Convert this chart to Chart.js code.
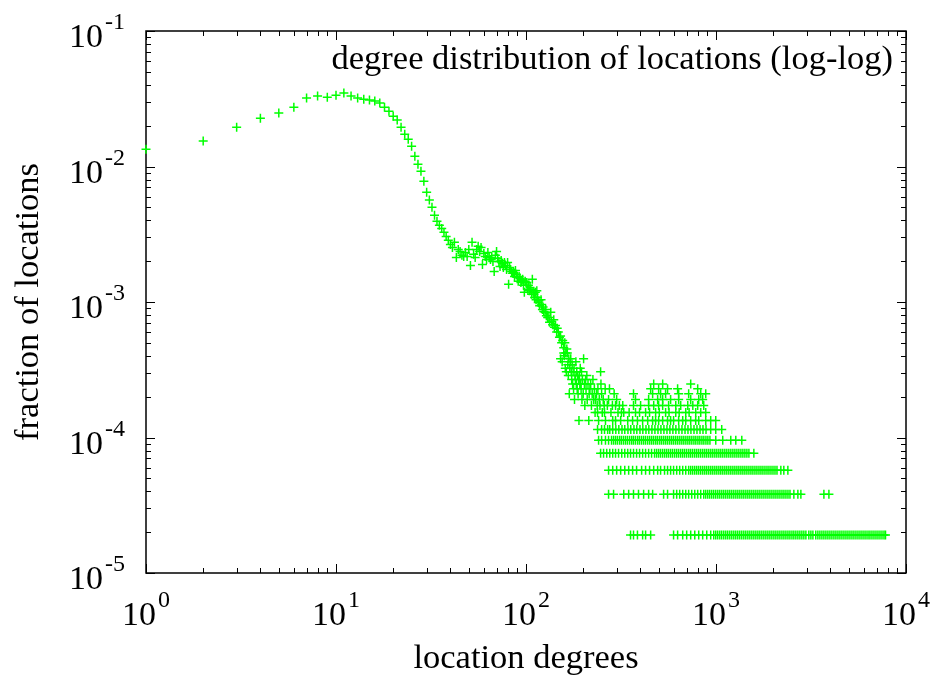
<!DOCTYPE html>
<html>
<head>
<meta charset="utf-8">
<script src="https://cdn.jsdelivr.net/npm/chart.js"></script>
<style>
  body { margin: 0; background: #fff; }
  canvas { display: block; }
</style>
</head>
<body>
<canvas id="degreeChart" width="932" height="684"></canvas>
<script>
// degree k -> fraction of locations (the smooth part, k = 1..164)
const curveDegrees = [1,2,3,4,5,6,7,8,9,10,11,12,13,14,15,16,17,18,19,20,21,22,23,24,25,26,27,28,29,30,
  31,32,33,34,35,36,37,38,39,40,41,42,43,44,45,46,47,48,49,50,51,52,53,54,55,56,57,58,59,60,
  61,62,63,64,65,66,67,68,69,70,71,72,73,74,75,76,77,78,79,80,81,82,83,84,85,86,87,88,89,90,
  91,92,93,94,95,96,97,98,99,100,101,102,103,104,105,106,107,108,109,110,111,112,113,114,115,116,117,118,
  120,121,122,123,124,126,127,128,130,132,133,135,136,138,140,141,143,145,146,148,150,152,154,156,158,160,162,164];
const curveFractions = [0.0134,0.0154,0.0195,0.0227,0.0248,0.0274,0.0320,0.0331,0.0325,0.0336,
  0.0348,0.0331,0.0320,0.0314,0.0309,0.0304,0.0294,0.0274,0.0256,0.0235,
  0.0220,0.0195,0.0173,0.0159,0.0141,0.0119,0.0104,0.00922,0.00778,0.00645,
  0.00565,0.00500,0.00436,0.00394,0.00368,0.00349,0.00327,0.00305,0.00285,0.00266,
  0.00252,0.00276,0.00213,0.00244,0.00236,0.00221,0.00217,0.00232,0.00217,0.00244,
  0.00186,0.00276,0.00225,0.00213,0.00244,0.00258,0.00236,0.00253,0.00189,0.00228,
  0.00217,0.00206,0.00232,0.00213,0.00206,0.00213,0.00199,0.00168,0.00221,0.00236,
  0.00210,0.00199,0.00183,0.00202,0.00193,0.00180,0.00196,0.00186,0.00174,0.00196,
  0.00135,0.00180,0.00174,0.00168,0.00163,0.00165,0.00154,0.00171,0.00160,0.00152,
  0.00142,0.00154,0.00149,0.00139,0.00144,0.00147,0.00133,0.00118,0.00142,0.00139,
  0.00139,0.00124,0.00133,0.00121,0.00128,0.00124,0.00114,0.00147,0.00118,0.00114,
  0.00108,0.00118,0.00104,0.00121,0.00108,0.00099,0.00102,0.00094,
  0.00104,0.00096,0.00088,0.00092,0.00085,0.00084,0.00088,0.00079,0.00077,0.00077,
  0.00071,0.00084,0.00072,0.00068,0.00074,0.00065,0.00067,0.00060,0.00064,0.00060,
  0.00055,0.00056,0.00050,0.00052,0.00046,0.00050,0.00042,0.00045];

// the tail is quantised: 1, 2, 3 ... locations out of ~52000
const levelFractions = [1.91e-5,3.82e-5,5.73e-5,7.64e-5,9.55e-5,1.146e-4,1.337e-4,1.528e-4,1.719e-4,1.91e-4,
  2.101e-4,2.292e-4,2.483e-4,2.674e-4,2.865e-4,3.056e-4,3.247e-4,3.438e-4,3.629e-4,3.82e-4,4.011e-4,4.202e-4];
const levelDegrees = [
  [355,368,386,411,426,453,598,628,668,701,736,773,811,851,894,938,973,997,1021,1047,1072,1099,1126,1153,1182,1211,
   1241,1271,1302,1334,1367,1401,1435,1471,1507,1544,1582,1621,1661,1701,1743,1786,1830,1875,1921,1968,2017,2066,
   2117,2169,2223,2277,2333,2391,2449,2510,2569,2632,2697,2763,2831,2900,2972,3080,3158,3236,3350,3437,3522,3609,3697,3788,
   3881,3977,4074,4175,4277,4383,4490,4600,4714,4830,4948,5070,5194,5320,5452,5587,5724,5864,6009,6156,6310,6461,6620,6783,
   6950,7120,7295,7474,7658,7800],
  [272,289,327,347,368,391,416,442,464,530,556,598,621,644,668,693,718,745,773,801,831,862,883,905,927,950,973,997,
   1022,1047,1073,1099,1126,1154,1182,1211,1241,1272,1303,1335,1368,1401,1436,1471,1507,1544,1582,1621,1661,1702,
   1744,1787,1831,1876,1922,1969,2018,2067,2118,2170,2224,2278,2334,2392,2451,2569,2697,2797,3697,3929],
  [272,286,300,315,331,347,364,382,406,426,447,470,493,511,536,556,577,598,621,644,668,693,718,736,754,773,792,811,
   831,852,873,894,916,939,962,986,1010,1035,1060,1086,1113,1140,1168,1197,1227,1257,1288,1319,1352,1385,1419,1454,
   1490,1527,1564,1603,1642,1683,1724,1766,1810,1855,1900,1947,1995,2044,2094,2194,2275,2389],
  [247,256,266,276,286,296,307,319,331,343,355,368,382,396,411,426,442,458,475,487,499,511,524,537,550,563,577,591,
   606,621,636,652,668,684,701,719,736,754,773,792,811,831,852,873,894,916,939,962,986,1010,1035,1060,1086,1113,
   1140,1168,1197,1227,1257,1288,1319,1352,1385,1419,1454,1490,1582],
  [241,250,262,272,282,289,296,303,311,318,326,334,342,351,360,368,377,387,396,406,416,426,437,448,459,470,482,493,
   506,518,531,544,557,571,585,599,614,629,645,661,677,694,711,728,746,765,783,803,822,843,863,885,906,929,997,1085,
   1196,1271,1367],
  [238,250,259,269,276,286,297,308,320,331,344,356,370,383,398,412,428,443,460,477,495,513,532,552,572,593,615,638,
   662,687,712,738,766,794,824,854,886,938,997,1072],
  [190,214,241,262,286,296,315,343,364,386,411,437,464,481,499,524,556,577,598,636,668,693,736,782,811,883,938,997],
  [231,238,252,259,280,305,318,327,349,377,396,426,447,481,503,543,566,614,640,693,722,782,831,883],
  [204,221,237,245,258,268,285,296,310,323,368,401,442,470,499,524,563,614,652,710,755,801,862],
  [180,197,210,227,232,243,255,272,300,377,442,493,524,577,636,736,811,851],
  [169,188,200,215,223,235,250,291,368,464,511,543,636,718,831,883],
  [178,186,195,207,217,229,239,261,275,453,499,556,628,801],
  [176,184,192,194,203,212,219,248,470,524,736],
  [174,182,189,198,206,225],
  [167,181,187,191,209],
  [163,173,177,185,196,247],
  [161,170,179,193],
  [166,175],
  [155,171,183],
  [152,168,172,201],
  [159],
  [158,165]
];

const xTickExponents = [0, 1, 2, 3, 4];
const yTickExponents = [-5, -4, -3, -2, -1];
const minorSteps = [2, 3, 4, 5, 6, 7, 8, 9];

const titleText = 'degree distribution of locations (log-log)';
const xTitle = 'location degrees';
const yTitle = 'fraction of locations';

const GREEN = '#00ff00';
const SERIF = '"Liberation Serif", "Times New Roman", serif';

// gnuplot-like frame: box, inward ticks on all sides, 10^n labels, texts
const gnuFrame = {
  id: 'gnuFrame',
  beforeDatasetsDraw(chart) {
    const { ctx, chartArea: a, scales: { x, y } } = chart;
    ctx.save();
    ctx.strokeStyle = '#000';
    ctx.lineWidth = 1;
    ctx.beginPath();
    const tick = (px, len, horiz) => {
      const p = Math.round(px) + 0.5;
      if (horiz) {
        ctx.moveTo(p, a.bottom); ctx.lineTo(p, a.bottom - len);
        ctx.moveTo(p, a.top); ctx.lineTo(p, a.top + len);
      } else {
        ctx.moveTo(a.left, p); ctx.lineTo(a.left + len, p);
        ctx.moveTo(a.right, p); ctx.lineTo(a.right - len, p);
      }
    };
    xTickExponents.forEach((e, i) => {
      tick(x.getPixelForValue(Math.pow(10, e)), 9, true);
      if (i < xTickExponents.length - 1)
        minorSteps.forEach(m => tick(x.getPixelForValue(m * Math.pow(10, e)), 5, true));
    });
    yTickExponents.forEach((e, i) => {
      tick(y.getPixelForValue(Math.pow(10, e)), 9, false);
      if (i < yTickExponents.length - 1)
        minorSteps.forEach(m => tick(y.getPixelForValue(m * Math.pow(10, e)), 5, false));
    });
    ctx.stroke();
    ctx.lineWidth = 1.5;
    ctx.strokeRect(a.left, a.top, a.right - a.left, a.bottom - a.top);

    // tick labels
    ctx.fillStyle = '#000';
    ctx.textAlign = 'left';
    ctx.textBaseline = 'alphabetic';
    const baseFont = '34px ' + SERIF, expFont = '24px ' + SERIF;
    const power = (e) => {
      ctx.font = baseFont; const w1 = ctx.measureText('10').width;
      ctx.font = expFont; const w2 = ctx.measureText(String(e)).width;
      return { w1, w2, total: w1 + 2 + w2 };
    };
    xTickExponents.forEach(e => {
      const px = x.getPixelForValue(Math.pow(10, e));
      const m = power(e);
      const start = px - m.total / 2;
      ctx.font = baseFont; ctx.fillText('10', start, 625);
      ctx.font = expFont; ctx.fillText(String(e), start + m.w1 + 2, 607);
    });
    yTickExponents.forEach(e => {
      const py = y.getPixelForValue(Math.pow(10, e));
      const m = power(e);
      const start = 125 - m.total;
      ctx.font = baseFont; ctx.fillText('10', start, py + 16);
      ctx.font = expFont; ctx.fillText(String(e), start + m.w1 + 2, py - 2);
    });

    // key title and axis titles
    ctx.font = '34.5px ' + SERIF;
    ctx.textAlign = 'right';
    ctx.fillText(titleText, a.right - 13, 69);
    ctx.textAlign = 'center';
    ctx.fillText(xTitle, (a.left + a.right) / 2, 668);
    ctx.translate(38, (a.top + a.bottom) / 2);
    ctx.rotate(-Math.PI / 2);
    ctx.fillText(yTitle, 0, 0);
    ctx.restore();
  }
};

const datasets = [{
  label: 'curve',
  data: curveDegrees.map((d, i) => ({ x: d, y: curveFractions[i] })),
  clip: false
}].concat(levelDegrees.map((row, i) => ({
  label: 'level ' + (i + 1),
  data: row.map(d => ({ x: d, y: levelFractions[i] })),
  clip: false
})));

new Chart(document.getElementById('degreeChart'), {
  type: 'scatter',
  data: { datasets: datasets },
  options: {
    responsive: false,
    animation: false,
    devicePixelRatio: 1,
    layout: { padding: { top: 31, right: 26, left: 0, bottom: 0 } },
    plugins: { legend: { display: false }, tooltip: { enabled: false } },
    elements: {
      point: {
        pointStyle: 'cross', radius: 4.5, hoverRadius: 4.5,
        borderWidth: 1.5, borderColor: GREEN, backgroundColor: GREEN
      }
    },
    scales: {
      x: {
        type: 'logarithmic', min: 1, max: 10000,
        ticks: { display: false }, grid: { display: false }, border: { display: false },
        afterFit: s => { s.height = 111; }
      },
      y: {
        type: 'logarithmic', min: 1e-5, max: 0.1,
        ticks: { display: false }, grid: { display: false }, border: { display: false },
        afterFit: s => { s.width = 146; }
      }
    }
  },
  plugins: [gnuFrame]
});
</script>
</body>
</html>
